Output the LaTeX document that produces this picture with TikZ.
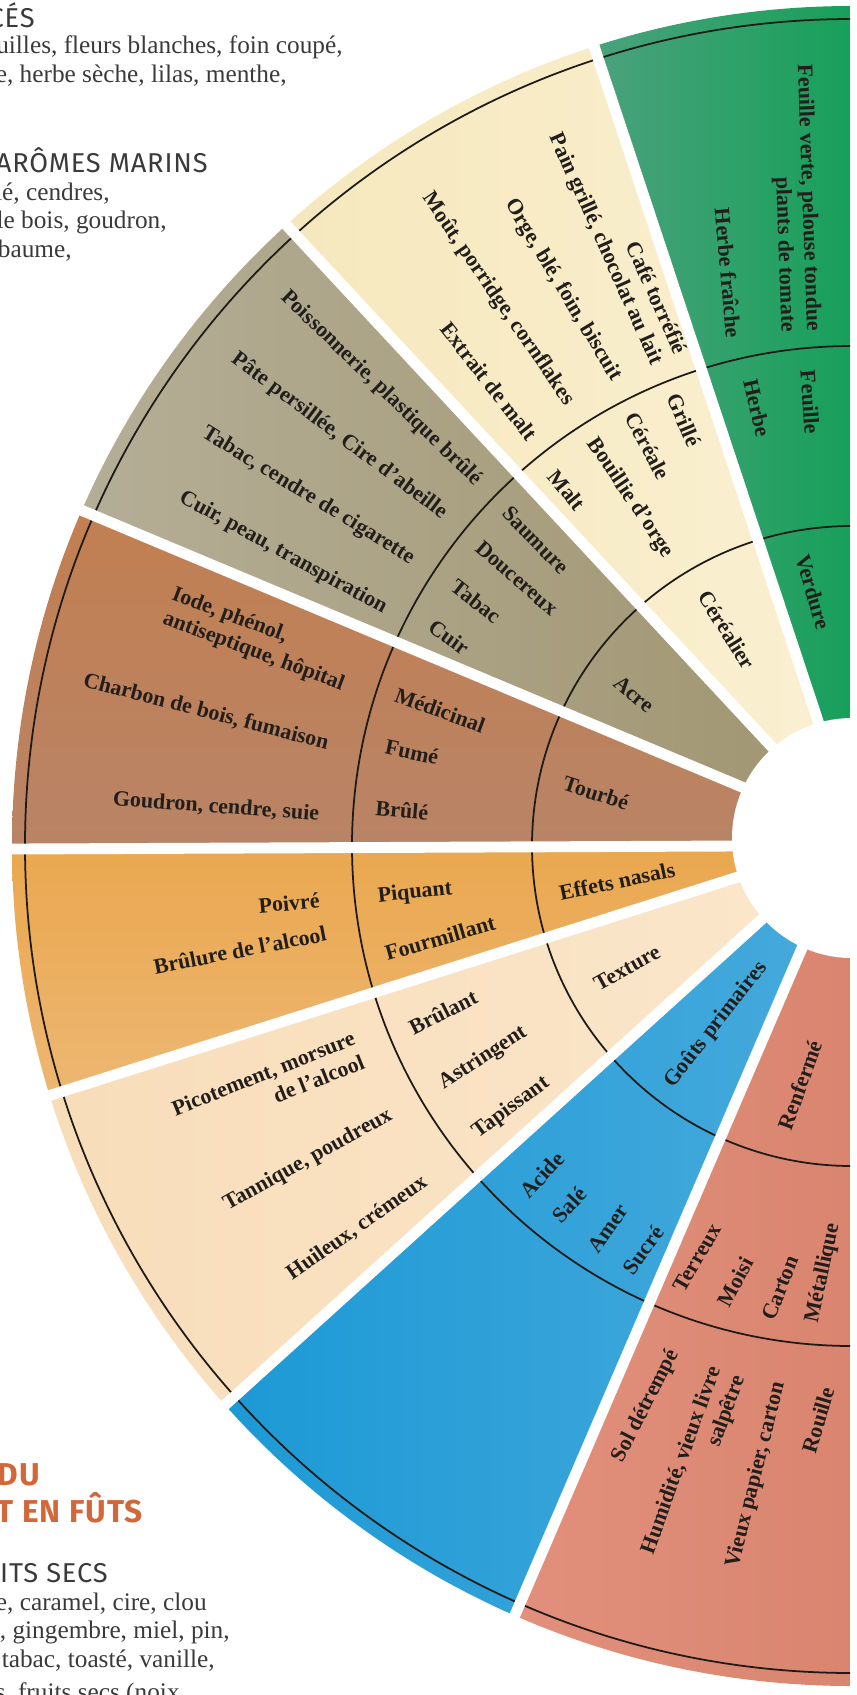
\documentclass[tikz,border=0pt]{standalone}
\usepackage{fontspec}
\setmainfont{Liberation Serif}
\newfontfamily\headfont[LetterSpace=3]{Fira Sans}
\usetikzlibrary{calc}

\definecolor{inktext}{HTML}{221E1B}
\definecolor{headgray}{HTML}{3A3A3A}
\definecolor{titleorange}{HTML}{D2683A}
\definecolor{ringline}{HTML}{1E1A17}
\definecolor{verdureL}{HTML}{58A285}
\definecolor{verdureR}{HTML}{17A05A}
\definecolor{cerealL}{HTML}{F5E6B8}
\definecolor{cerealR}{HTML}{FAF0D2}
\definecolor{acreL}{HTML}{BAB4A0}
\definecolor{acreR}{HTML}{A09570}
\definecolor{tourbeT}{HTML}{C47E4C}
\definecolor{tourbeB}{HTML}{B98466}
\definecolor{nasalT}{HTML}{EAA74E}
\definecolor{nasalB}{HTML}{EEBB7C}
\definecolor{textureL}{HTML}{F7DAB4}
\definecolor{textureR}{HTML}{FBE7CC}
\definecolor{goutL}{HTML}{1095D4}
\definecolor{goutR}{HTML}{48AADC}
\definecolor{renfL}{HTML}{E4937F}
\definecolor{renfR}{HTML}{D98570}

\tikzset{
  lab/.style={font=\bfseries\fontsize{12.5}{14.5}\selectfont, text=inktext, inner sep=0pt, align=center},
  ringarc/.style={line width=1pt, draw=ringline},
  gapstrip/.style={line width=6.2pt, draw=white},
  bodytext/.style={font=\fontsize{14.4}{16}\selectfont, text=headgray, anchor=base east, inner sep=0pt},
  headtext/.style={font=\headfont\fontsize{15.5}{17}\selectfont, text=headgray, anchor=base east, inner sep=0pt},
  titletext/.style={font=\headfont\bfseries\fontsize{18}{20}\selectfont, text=titleorange, anchor=base east, inner sep=0pt},
}

\begin{document}
\begin{tikzpicture}[x=0.02cm,y=-0.02cm]
\useasboundingbox (0,0) rectangle (857,1695);
\clip (0,0) rectangle (857,1695);

% centre of the wheel, ends of the white gaps
\coordinate (C) at (852,846);
\coordinate (H) at (852,838);
\coordinate (gA-o) at (596.5,53.5); \coordinate (gA-i) at (818,721);
\coordinate (gB-o) at (290,229);    \coordinate (gB-i) at (771,746);
\coordinate (gC-o) at (88,513);     \coordinate (gC-i) at (742,787);
\coordinate (gD-o) at (13,849);     \coordinate (gD-i) at (735,846);
\coordinate (gE-o) at (45,1097);    \coordinate (gE-i) at (738,877);
\coordinate (gF-o) at (225,1405);   \coordinate (gF-i) at (760,921);
\coordinate (gG-o) at (515,1615);   \coordinate (gG-i) at (802,948);
\foreach \g in {A,B,C,D,E,F,G}{
  \coordinate (g\g-x) at ($(g\g-i)!1.3!(g\g-o)$);
  \coordinate (g\g-n) at ($(g\g-o)!1.15!(g\g-i)$);
}
\coordinate (topR) at (850,-300);
\coordinate (botR) at (850,2000);
\coordinate (midR) at (850,846);

% sectors and rings
\begin{scope}
\clip (0,0) rectangle (850,1695);
\clip (C) circle[radius=840];
\shade[left color=verdureL, right color=verdureR] (gA-n) -- (gA-x) -- (topR) -- (midR) -- cycle;
\shade[left color=cerealL, right color=cerealR] (gA-n) -- (gA-x) -- (gB-x) -- (gB-n) -- cycle;
\shade[left color=acreL, right color=acreR] (gB-n) -- (gB-x) -- (gC-x) -- (gC-n) -- cycle;
\shade[top color=tourbeT, bottom color=tourbeB] (gC-n) -- (gC-x) -- (gD-x) -- (gD-n) -- cycle;
\shade[top color=nasalT, bottom color=nasalB] (gD-n) -- (gD-x) -- (gE-x) -- (gE-n) -- cycle;
\shade[left color=textureL, right color=textureR] (gE-n) -- (gE-x) -- (gF-x) -- (gF-n) -- cycle;
\shade[left color=goutL, right color=goutR] (gF-n) -- (gF-x) -- (gG-x) -- (gG-n) -- cycle;
\shade[left color=renfL, right color=renfR] (gG-n) -- (gG-x) -- (botR) -- (midR) -- cycle;
\foreach \r in {320,500,827}
  \draw[ringarc] (C) circle[radius=\r];
\end{scope}

% white gaps and hole
\begin{scope}
\clip (C) circle[radius=845];
\foreach \g in {A,B,C,D,E,F,G}
  \draw[gapstrip] (g\g-n) -- (g\g-x);
\end{scope}
\fill[white] (H) circle[radius=120];

% Verdure
\node[lab, rotate=-88, align=right] (feuilleverte) at (795,198) {Feuille verte, pelouse tondue\\plants de tomate};
\node[lab, rotate=-85] (herbefraiche) at (728,273) {Herbe fraîche};
\node[lab, rotate=-86] (feuille) at (810,402) {Feuille};
\node[lab, rotate=-77] (herbe) at (757,408) {Herbe};
\node[lab, rotate=-74] (verdure) at (813,592) {Verdure};
% Céréalier
\node[lab, rotate=-66, align=right] (cafe) at (617,244) {Café torréfié\\Pain grillé, chocolat au lait};
\node[lab, rotate=-59] (orge) at (563,290) {Orge, blé, foin, biscuit};
\node[lab, rotate=-55.5] (mout) at (498,299) {Moût, porridge, cornflakes};
\node[lab, rotate=-52] (extrait) at (489,381) {Extrait de malt};
\node[lab, rotate=-67] (grille) at (684,420) {Grillé};
\node[lab, rotate=-62] (cereale) at (648,446) {Céréale};
\node[lab, rotate=-56] (bouillie) at (630,498) {Bouillie d'orge};
\node[lab, rotate=-51] (malt) at (567,490) {Malt};
\node[lab, rotate=-58] (cerealier) at (727,630) {Céréalier};
% Acre
\node[lab, rotate=-44] (poisson) at (381,388) {Poissonnerie, plastique brûlé};
\node[lab, rotate=-36.7] (pate) at (339,436) {Pâte persillée, Cire d'abeille};
\node[lab, rotate=-31.4] (tabaccendre) at (308,496) {Tabac, cendre de cigarette};
\node[lab, rotate=-28.8] (cuirpeau) at (283,553) {Cuir, peau, transpiration};
\node[lab, rotate=-46] (saumure) at (536,540) {Saumure};
\node[lab, rotate=-41] (doucereux) at (517,578) {Doucereux};
\node[lab, rotate=-38] (tabac) at (476,601) {Tabac};
\node[lab, rotate=-36] (cuir) at (449,637) {Cuir};
\node[lab, rotate=-40] (acre) at (634,694) {Acre};
% Tourbé
\node[lab, rotate=-20.5, align=left] (iode) at (258,640) {Iode, phénol,\\antiseptique, hôpital};
\node[lab, rotate=-14.6] (charbon) at (206,712) {Charbon de bois, fumaison};
\node[lab, rotate=-4.2] (goudron) at (216,807) {Goudron, cendre, suie};
\node[lab, rotate=-20] (medicinal) at (440,710) {Médicinal};
\node[lab, rotate=-12] (fume) at (412,752) {Fumé};
\node[lab, rotate=-5] (brule) at (402,810) {Brûlé};
\node[lab, rotate=-18] (tourbe) at (596,793) {Tourbé};
% Effets nasals
\node[lab, rotate=5] (poivre) at (289,903) {Poivré};
\node[lab, rotate=11] (brulure) at (240,950) {Brûlure de l'alcool};
\node[lab, rotate=6] (piquant) at (415,893) {Piquant};
\node[lab, rotate=16] (fourmillant) at (440,938) {Fourmillant};
\node[lab, rotate=12] (effets) at (617,881) {Effets nasals};
% Texture
\node[lab, rotate=21.7, align=right] (picotement) at (268,1085) {Picotement, morsure\\de l'alcool};
\node[lab, rotate=29] (tannique) at (308,1160) {Tannique, poudreux};
\node[lab, rotate=35] (huileux) at (357,1228) {Huileux, crémeux};
\node[lab, rotate=27] (brulant) at (443,1012) {Brûlant};
\node[lab, rotate=33] (astringent) at (483,1058) {Astringent};
\node[lab, rotate=36.5] (tapissant) at (511,1108) {Tapissant};
\node[lab, rotate=29] (texture) at (627,968) {Texture};
% Goûts primaires
\node[lab, rotate=52] (gouts) at (716,1025) {Goûts primaires};
\node[lab, rotate=48] (acide) at (542,1175) {Acide};
\node[lab, rotate=47] (sale) at (569,1205) {Salé};
\node[lab, rotate=55] (amer) at (608,1228) {Amer};
\node[lab, rotate=54] (sucre) at (643,1250) {Sucré};
% Renfermé
\node[lab, rotate=70] (renferme) at (800,1085) {Renfermé};
\node[lab, rotate=60] (terreux) at (697,1258) {Terreux};
\node[lab, rotate=62] (moisi) at (735,1282) {Moisi};
\node[lab, rotate=68] (carton) at (780,1288) {Carton};
\node[lab, rotate=78] (metallique) at (823,1273) {Métallique};
\node[lab, rotate=63] (sol) at (646,1406) {Sol détrempé};
\node[lab, rotate=70, align=right] (humidite) at (694,1465) {Humidité, vieux livre\\salpêtre};
\node[lab, rotate=76] (vieux) at (756,1475) {Vieux papier, carton};
\node[lab, rotate=73.5] (rouille) at (818,1420) {Rouille};

% text of the page, cut at the left edge
\node[headtext] (herbaceshead) at (35,27) {CÉS};
\node[bodytext] (herbaces1) at (343,53) {uilles, fleurs blanches, foin coupé,};
\node[bodytext] (herbaces2) at (287,82) {e, herbe sèche, lilas, menthe,};
\node[headtext] (marinshead) at (208,172) {ARÔMES MARINS};
\node[bodytext] (marins1) at (110,200) {lé, cendres,};
\node[bodytext] (marins2) at (167,228) {le bois, goudron,};
\node[bodytext] (marins3) at (72,257) {baume,};
\node[titletext] (title1) at (40,1485) {DU};
\node[titletext] (title2) at (143,1522) {T EN FÛTS};
\node[headtext] (fruitshead) at (108,1582) {ITS SECS};
\node[bodytext] (fruits1) at (207,1610) {e, caramel, cire, clou};
\node[bodytext] (fruits2) at (230,1638) {, gingembre, miel, pin,};
\node[bodytext] (fruits3) at (215,1667) {tabac, toasté, vanille,};
\node[bodytext] (fruits4) at (180,1700) {s, fruits secs (noix};
\end{tikzpicture}
\end{document}
